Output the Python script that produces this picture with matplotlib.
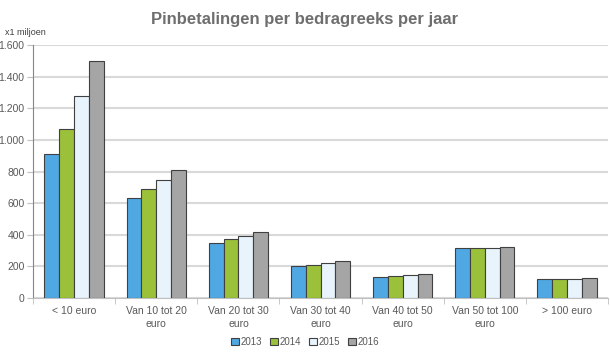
import matplotlib
matplotlib.use("Agg")
import matplotlib.pyplot as plt
import numpy as np
from matplotlib.ticker import FuncFormatter, FixedLocator

categories = ["< 10 euro", "Van 10 tot 20\neuro", "Van 20 tot 30\neuro", "Van 30 tot 40\neuro",
              "Van 40 tot 50\neuro", "Van 50 tot 100\neuro", "> 100 euro"]
years = ["2013", "2014", "2015", "2016"]
v2013 = [910, 632, 347, 202, 133, 316, 120]
v2014 = [1070, 689, 373, 208, 139, 316, 120]
v2015 = [1275, 745, 394, 221, 147, 316, 120]
v2016 = [1497, 810, 419, 234, 153, 320, 124]
series = [v2013, v2014, v2015, v2016]
colors = ["#4FA8E2", "#9BC13B", "#E8F3FC", "#A5A5A5"]

plt.rcParams['font.family'] = ['Liberation Sans', 'DejaVu Sans']
fig = plt.figure(figsize=(6.1, 3.6), dpi=100)
ax = fig.add_axes([0.054, 0.172, 0.943, 0.703])

x = np.arange(len(categories))
w = 0.18
for i, (vals, c) in enumerate(zip(series, colors)):
    ax.bar(x + (i - 1.5) * w, vals, w, color=c, edgecolor="#404040", linewidth=0.8,
           label=years[i], zorder=3)

ax.set_xlim(-0.5, len(categories) - 0.5)
ax.set_ylim(0, 1600)
ax.set_yticks(np.arange(0, 1601, 200))
ax.yaxis.set_major_formatter(FuncFormatter(lambda v, p: f"{int(v):,}".replace(",", ".")))
ax.grid(axis="y", color="#D9D9D9", linewidth=1.5, zorder=0)
ax.set_xticks(x)
ax.set_xticklabels(categories, fontsize=7.5, color="#595959", linespacing=1.3)
ax.xaxis.set_minor_locator(FixedLocator(np.arange(-0.5, len(categories), 1)))
ax.tick_params(axis="x", which="major", length=0, pad=6)
ax.tick_params(axis="x", which="minor", length=4, color="#BFBFBF")
ax.tick_params(axis="y", labelsize=7.5, labelcolor="#595959", length=4, color="#BFBFBF", pad=2)
for s in ["top", "right"]:
    ax.spines[s].set_visible(False)
ax.spines["left"].set_color("#868686")
ax.spines["bottom"].set_color("#BFBFBF")

fig.text(0.5, 0.945, "Pinbetalingen per bedragreeks per jaar", ha="center", va="center",
         fontsize=12, fontweight="bold", color="#6E6E6E")
fig.text(0.008, 0.91, "x1 miljoen", ha="left", va="center", fontsize=6.5, color="#404040")

leg = fig.legend(loc="center", bbox_to_anchor=(0.5, 0.05), ncol=4, frameon=False,
                 fontsize=7, handlelength=0.8, handleheight=0.8, handletextpad=0.2,
                 columnspacing=0.8)
for t in leg.get_texts():
    t.set_color("#595959")

fig.savefig("out.png", dpi=100)
